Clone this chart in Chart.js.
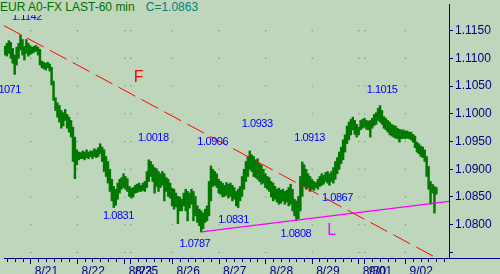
<!DOCTYPE html>
<html>
<head>
<meta charset="utf-8">
<script src="https://cdn.jsdelivr.net/npm/chart.js@4.4.1/dist/chart.umd.min.js"></script>
<style>
  html, body { margin: 0; padding: 0; background: #bed6bb; }
  #wrap { position: relative; width: 500px; height: 274px; overflow: hidden; }
  #chart { display: block; }
  #title {
    position: absolute; left: 0; top: 0; height: 15px; padding-right: 4px;
    background: #bed6bb; font: 12px Arial, "Liberation Sans", sans-serif;
    line-height: 15px; white-space: nowrap;
  }
  #title .sym { color: #007000; }
  #title .last { color: #008080; margin-left: 11px; }
</style>
</head>
<body>
<div id="wrap">
  <canvas id="chart" width="500" height="274"></canvas>
  <div id="title"><span class="sym">EUR A0-FX LAST-60 min</span><span class="last">C=1.0863</span></div>
</div>
<script>
// Hourly bars (bar index = hour)
const barHighs = [
  1.1122, 1.1127, 1.1132, 1.1129, 1.1118, 1.1106, 1.1120, 1.1127, 1.1142, 1.1134,
  1.1122, 1.1134, 1.1127, 1.1123, 1.1120, 1.1122, 1.1123, 1.1120, 1.1116, 1.1095,
  1.1093, 1.1091, 1.1093, 1.1090, 1.1084, 1.1059, 1.1029, 1.1020, 1.1015, 1.1006,
  1.1002, 1.1008, 1.0999, 1.0994, 1.0988, 1.0976, 1.0958, 1.0935, 1.0931, 1.0930,
  1.0933, 1.0931, 1.0935, 1.0931, 1.0933, 1.0933, 1.0937, 1.0935, 1.0939, 1.0946,
  1.0940, 1.0935, 1.0923, 1.0914, 1.0900, 1.0882, 1.0869, 1.0864, 1.0875, 1.0882,
  1.0885, 1.0892, 1.0887, 1.0883, 1.0869, 1.0866, 1.0867, 1.0871, 1.0873, 1.0875,
  1.0871, 1.0875, 1.0878, 1.0896, 1.0917, 1.0914, 1.0908, 1.0903, 1.0901, 1.0896,
  1.0892, 1.0896, 1.0892, 1.0885, 1.0882, 1.0875, 1.0866, 1.0864, 1.0857, 1.0851,
  1.0850, 1.0846, 1.0857, 1.0864, 1.0860, 1.0857, 1.0864, 1.0860, 1.0851, 1.0834,
  1.0828, 1.0825, 1.0821, 1.0828, 1.0834, 1.0878, 1.0906, 1.0900, 1.0896, 1.0892,
  1.0882, 1.0878, 1.0875, 1.0871, 1.0876, 1.0873, 1.0875, 1.0871, 1.0867, 1.0860,
  1.0864, 1.0869, 1.0887, 1.0900, 1.0914, 1.0923, 1.0933, 1.0926, 1.0923, 1.0917,
  1.0919, 1.0910, 1.0907, 1.0900, 1.0892, 1.0887, 1.0885, 1.0878, 1.0875, 1.0869,
  1.0864, 1.0866, 1.0862, 1.0864, 1.0860, 1.0862, 1.0867, 1.0873, 1.0864, 1.0846,
  1.0843, 1.0851, 1.0887, 1.0913, 1.0908, 1.0900, 1.0892, 1.0887, 1.0882, 1.0878,
  1.0876, 1.0882, 1.0887, 1.0892, 1.0889, 1.0894, 1.0896, 1.0892, 1.0896, 1.0903,
  1.0914, 1.0921, 1.0931, 1.0940, 1.0953, 1.0962, 1.0978, 1.0985, 1.0990, 1.0994,
  1.0988, 1.0981, 1.0976, 1.0988, 1.0990, 1.0992, 1.0988, 1.0987, 1.0988, 1.0992,
  1.0999, 1.1002, 1.1010, 1.1015, 1.1006, 1.0995, 1.0992, 1.0988, 1.0985, 1.0981,
  1.0979, 1.0978, 1.0974, 1.0972, 1.0971, 1.0971, 1.0969, 1.0969, 1.0967, 1.0967,
  1.0963, 1.0960, 1.0949, 1.0946, 1.0942, 1.0940, 1.0935, 1.0923, 1.0905, 1.0878,
  1.0873, 1.0869, 1.0867
];
const barLows = [
  1.1106, 1.1104, 1.1109, 1.1100, 1.1091, 1.1071, 1.1088, 1.1100, 1.1115, 1.1106,
  1.1097, 1.1109, 1.1104, 1.1107, 1.1109, 1.1111, 1.1113, 1.1106, 1.1088, 1.1083,
  1.1081, 1.1079, 1.1083, 1.1077, 1.1052, 1.1024, 1.1006, 1.0994, 1.0985, 1.0974,
  1.0978, 1.0988, 1.0974, 1.0967, 1.0958, 1.0914, 1.0883, 1.0908, 1.0917, 1.0919,
  1.0919, 1.0917, 1.0921, 1.0919, 1.0923, 1.0919, 1.0923, 1.0921, 1.0923, 1.0928,
  1.0914, 1.0896, 1.0887, 1.0875, 1.0860, 1.0843, 1.0831, 1.0835, 1.0846, 1.0857,
  1.0864, 1.0867, 1.0864, 1.0860, 1.0851, 1.0848, 1.0850, 1.0857, 1.0858, 1.0860,
  1.0860, 1.0862, 1.0860, 1.0867, 1.0878, 1.0887, 1.0878, 1.0857, 1.0869, 1.0860,
  1.0867, 1.0871, 1.0843, 1.0860, 1.0851, 1.0848, 1.0834, 1.0828, 1.0832, 1.0802,
  1.0825, 1.0825, 1.0834, 1.0825, 1.0807, 1.0830, 1.0837, 1.0807, 1.0816, 1.0804,
  1.0798, 1.0787, 1.0793, 1.0804, 1.0807, 1.0816, 1.0843, 1.0869, 1.0871, 1.0867,
  1.0857, 1.0855, 1.0850, 1.0851, 1.0853, 1.0848, 1.0851, 1.0843, 1.0846, 1.0834,
  1.0831, 1.0843, 1.0851, 1.0864, 1.0878, 1.0887, 1.0900, 1.0896, 1.0887, 1.0885,
  1.0882, 1.0878, 1.0873, 1.0875, 1.0867, 1.0864, 1.0860, 1.0850, 1.0843, 1.0846,
  1.0841, 1.0837, 1.0839, 1.0843, 1.0837, 1.0841, 1.0834, 1.0837, 1.0825, 1.0816,
  1.0808, 1.0811, 1.0825, 1.0851, 1.0869, 1.0864, 1.0867, 1.0860, 1.0864, 1.0862,
  1.0867, 1.0864, 1.0869, 1.0871, 1.0873, 1.0878, 1.0875, 1.0871, 1.0878, 1.0875,
  1.0882, 1.0892, 1.0900, 1.0910, 1.0917, 1.0931, 1.0946, 1.0953, 1.0962, 1.0971,
  1.0963, 1.0958, 1.0962, 1.0971, 1.0974, 1.0976, 1.0972, 1.0971, 1.0958, 1.0974,
  1.0979, 1.0981, 1.0988, 1.0985, 1.0981, 1.0974, 1.0971, 1.0967, 1.0962, 1.0960,
  1.0958, 1.0956, 1.0955, 1.0949, 1.0955, 1.0956, 1.0955, 1.0956, 1.0955, 1.0953,
  1.0949, 1.0939, 1.0931, 1.0928, 1.0923, 1.0921, 1.0914, 1.0887, 1.0864, 1.0837,
  1.0857, 1.0821, 1.0855
];

// Date ticks (bar index where each day starts) and their labels
const xTickPos = [13.3, 37.3, 61.7, 64.8, 86.2, 110.2, 134.2, 158.1, 182.1, 185.2, 206.1];
const xTickLabels = ['8/21', '8/22', '8/23', '8/25', '8/26', '8/27', '8/28', '8/29', '8/30', '9/01', '9/02'];

// Price ticks
const yTickValues = [1.075, 1.080, 1.085, 1.090, 1.095, 1.100, 1.105, 1.110, 1.115];

// Trend lines: [bar index, price] end points
const lineF = [[-0.5, 1.1159], [228.5, 1.0728]];
const lineL = [[101, 1.0787], [228.5, 1.0842]];

// Swing labels
const priceNotes = [
  { text: '1.1142', bar: 3.6, price: 1.1175 },
  { text: '1.1071', bar: -7.6, price: 1.1043 },
  { text: '1.0018', bar: 68.4, price: 1.0956 },
  { text: '1.0831', bar: 50.5, price: 1.0816 },
  { text: '1.0787', bar: 89.8, price: 1.0766 },
  { text: '1.0906', bar: 99.0, price: 1.0949 },
  { text: '1.0933', bar: 121.9, price: 1.0981 },
  { text: '1.0831', bar: 109.7, price: 1.0809 },
  { text: '1.0913', bar: 148.9, price: 1.0956 },
  { text: '1.0808', bar: 141.8, price: 1.0784 },
  { text: '1.0867', bar: 163.2, price: 1.0848 },
  { text: '1.1015', bar: 186.2, price: 1.1043 }
];
const lineNotes = [
  { text: 'F', bar: 66.3, price: 1.1065 },
  { text: 'L', bar: 165.8, price: 1.0789 }
];

const NAVY = '#000080';
const RED = '#ff0000';
const MAGENTA = '#ff00ff';

// minor ticks every 4 hours inside each day
const xMinor = [];
for (let k = 0; k < xTickPos.length; k++) {
  const next = k + 1 < xTickPos.length ? xTickPos[k + 1] : 228.5;
  for (let t = xTickPos[k] + 4; t < next - 1; t += 4) xMinor.push(t);
}
for (let t = xTickPos[0] - 4; t > -0.5; t -= 4) xMinor.push(t);
const xAllTicks = xTickPos.concat(xMinor).sort((a, b) => a - b);

const bars = barHighs.map((h, i) => ({ x: i, y: [barLows[i], h] }));

const gridDots = [];
xTickPos.forEach(x => yTickValues.forEach(y => gridDots.push({ x: x, y: y })));

function noPadding(s) {
  s.paddingTop = 0;
  s.paddingBottom = 0;
  s.paddingLeft = 0;
  s.paddingRight = 0;
}

const notesPlugin = {
  id: 'notes',
  afterDatasetsDraw(chart) {
    const { ctx, scales: { x, y } } = chart;
    ctx.save();
    ctx.textAlign = 'left';
    ctx.textBaseline = 'middle';
    ctx.font = '11px Arial, "Liberation Sans", sans-serif';
    ctx.letterSpacing = '-0.5px';
    ctx.fillStyle = '#0000ff';
    priceNotes.forEach(n => {
      ctx.fillText(n.text, x.getPixelForValue(n.bar), y.getPixelForValue(n.price));
    });
    ctx.letterSpacing = '0px';
    ctx.font = '16px Arial, "Liberation Sans", sans-serif';
    ctx.fillStyle = RED;
    ctx.fillText(lineNotes[0].text, x.getPixelForValue(lineNotes[0].bar), y.getPixelForValue(lineNotes[0].price));
    ctx.fillStyle = MAGENTA;
    ctx.fillText(lineNotes[1].text, x.getPixelForValue(lineNotes[1].bar), y.getPixelForValue(lineNotes[1].price));
    ctx.restore();
  },
  afterDraw(chart) {
    // time axis line runs on under the price scale
    const { ctx, chartArea } = chart;
    ctx.save();
    ctx.strokeStyle = NAVY;
    ctx.lineWidth = 1;
    ctx.beginPath();
    ctx.moveTo(chartArea.right, Math.round(chartArea.bottom) + 0.5);
    ctx.lineTo(chart.width, Math.round(chartArea.bottom) + 0.5);
    ctx.stroke();
    ctx.restore();
  }
};

new Chart(document.getElementById('chart'), {
  type: 'bar',
  data: {
    datasets: [
      {
        type: 'line',
        data: gridDots,
        showLine: false,
        pointStyle: 'rect',
        pointRadius: 0.75,
        pointBorderWidth: 0,
        pointBackgroundColor: '#767e76',
        order: 5
      },
      {
        type: 'bar',
        data: bars,
        backgroundColor: '#007800',
        borderWidth: 0,
        barThickness: 1.8,
        order: 3
      },
      {
        type: 'line',
        data: lineF.map(p => ({ x: p[0], y: p[1] })),
        borderColor: RED,
        borderWidth: 1,
        borderDash: [19, 7],
        pointRadius: 0,
        order: 1
      },
      {
        type: 'line',
        data: lineL.map(p => ({ x: p[0], y: p[1] })),
        borderColor: MAGENTA,
        borderWidth: 1.2,
        pointRadius: 0,
        order: 1
      }
    ]
  },
  options: {
    responsive: false,
    animation: false,
    devicePixelRatio: 1,
    layout: { padding: 0 },
    plugins: { legend: { display: false }, tooltip: { enabled: false } },
    scales: {
      x: {
        type: 'linear',
        min: -0.5,
        max: 228.5,
        offset: false,
        afterBuildTicks: s => { s.ticks = xAllTicks.map(v => ({ value: v })); },
        afterFit: s => { s.height = 16; noPadding(s); },
        grid: {
          drawOnChartArea: false,
          offset: false,
          tickLength: 6,
          tickColor: NAVY,
          tickBorderDash: c => (c.tick && xTickPos.indexOf(c.tick.value) >= 0) ? [] : [3, 20]
        },
        border: { color: NAVY, width: 1 },
        ticks: {
          autoSkip: false,
          maxRotation: 0,
          minRotation: 0,
          align: 'start',
          labelOffset: 4,
          padding: 0,
          color: NAVY,
          font: { family: 'Arial, "Liberation Sans", sans-serif', size: 12 },
          callback: v => {
            const k = xTickPos.indexOf(v);
            return k >= 0 ? xTickLabels[k] : '';
          }
        }
      },
      y: {
        type: 'linear',
        position: 'right',
        min: 1.0740,
        max: 1.1198,
        afterBuildTicks: s => { s.ticks = yTickValues.map(v => ({ value: v })); },
        afterFit: s => { s.width = 51; noPadding(s); },
        grid: { drawOnChartArea: false, tickLength: 4, tickColor: NAVY },
        border: { color: NAVY, width: 1 },
        ticks: {
          padding: 2,
          color: NAVY,
          font: { family: 'Arial, "Liberation Sans", sans-serif', size: 12 },
          callback: v => v >= 1.0799 ? v.toFixed(4) : ''
        }
      }
    }
  },
  plugins: [notesPlugin]
});
</script>
</body>
</html>
